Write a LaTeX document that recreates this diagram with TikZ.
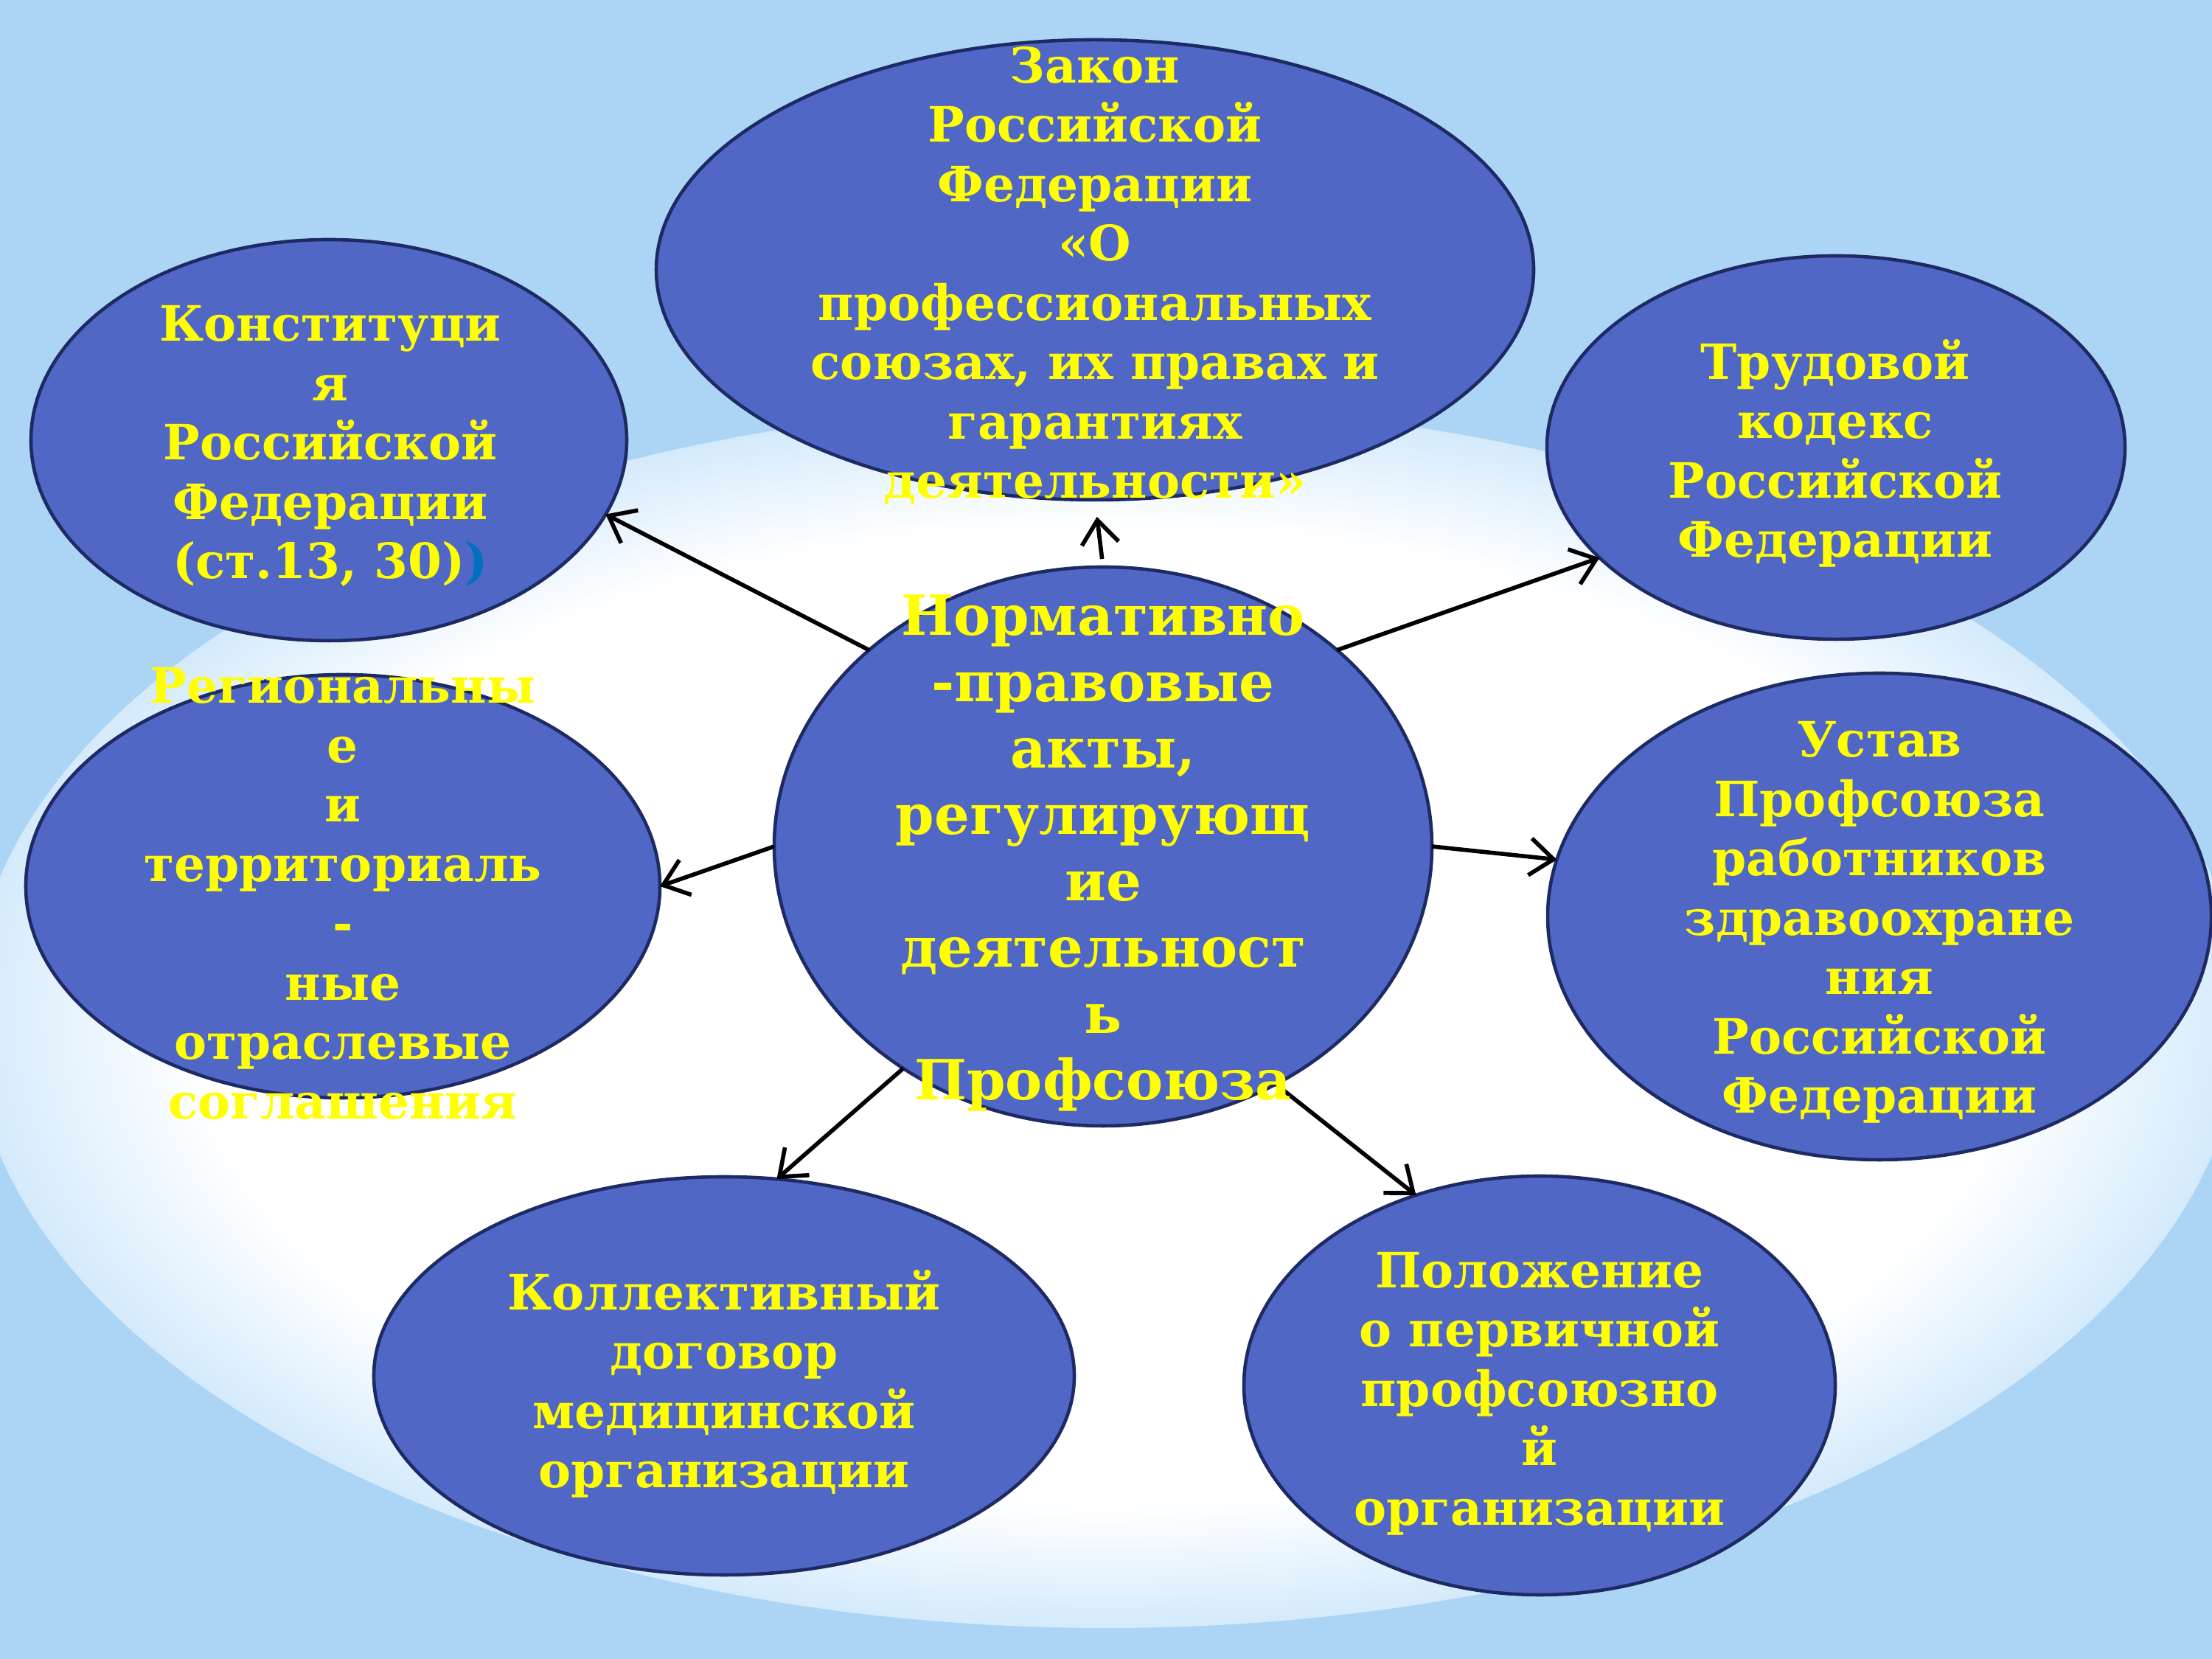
\documentclass[tikz,border=0pt]{standalone}
\usepackage{fontspec}
\setmainfont{DejaVu Serif}
\usepackage{tikz}
\usetikzlibrary{arrows.meta,shapes.geometric}
\definecolor{bgblue}{RGB}{172,213,245}
\definecolor{bglight}{RGB}{226,241,253}
\definecolor{spotedge}{RGB}{212,234,251}
\definecolor{ovalfill}{RGB}{80,103,198}
\definecolor{ovaldraw}{RGB}{30,42,100}
\definecolor{txtyellow}{RGB}{255,255,0}
\definecolor{parblue}{RGB}{0,112,192}
\pgfdeclareradialshading{spotlight}{\pgfpoint{0bp}{0bp}}{color(0bp)=(white); color(20bp)=(white); color(25bp)=(spotedge); color(50bp)=(spotedge)}

\begin{document}
\begin{tikzpicture}[>={Straight Barb[length=3.2mm,width=5mm]},
  oval/.style={ellipse,draw=ovaldraw,fill=ovalfill,line width=1.3pt,inner sep=0pt,outer sep=0pt},
  lbl/.style={text=txtyellow,font=\bfseries\fontsize{18.8}{22.9}\selectfont,align=center},
  arr/.style={->,line width=1.6pt}]
\useasboundingbox (0,0) rectangle (30,22.5);
\shade[left color=bgblue,middle color=bglight,right color=bgblue] (0,0) rectangle (30,22.5);
\shade[shading=spotlight] (15,8.72) ellipse [x radius=15.4,y radius=8.3];

\node[oval,minimum width=8.08cm,minimum height=5.44cm] (konst) at (4.46,16.53) {};
\node[oval,minimum width=11.9cm,minimum height=6.24cm] (zakon) at (14.85,18.84) {};
\node[oval,minimum width=7.84cm,minimum height=5.2cm] (tk) at (24.9,16.43) {};
\node[oval,minimum width=8.6cm,minimum height=5.74cm] (region) at (4.65,10.48) {};
\node[oval,minimum width=8.92cm,minimum height=7.58cm] (main) at (14.96,11.02) {};
\node[oval,minimum width=9cm,minimum height=6.6cm] (ustav) at (25.49,10.07) {};
\node[oval,minimum width=9.5cm,minimum height=5.4cm] (kollektiv) at (9.82,3.84) {};
\node[oval,minimum width=8.02cm,minimum height=5.68cm] (polozh) at (20.88,3.71) {};

\draw[arr] (main.140) -- (konst.345);
\draw[arr,shorten >=0.23cm,shorten <=0.11cm] (main.north) -- (zakon.south);
\draw[arr] (main.40) -- (tk.205);
\draw[arr] (main.west) -- (region.east);
\draw[arr] (main.east) -- (ustav.170);
\draw[arr] (main.228) -- (kollektiv.75);
\draw[arr] (main.306) -- (polozh.123);

\node[lbl] (konsttxt) at (4.48,16.45) {Конституци\\я\\Российской\\Федерации\\(ст.13, 30)\textcolor{parblue}{)}};
\node[lbl] (zakontxt) at (14.85,18.76) {Закон\\Российской\\Федерации\\«О\\профессиональных\\союзах, их правах и\\гарантиях\\деятельности»};
\node[lbl] (tktxt) at (24.89,16.35) {Трудовой\\кодекс\\Российской\\Федерации};
\node[lbl] (regiontxt) at (4.65,10.38) {Региональны\\е\\и\\территориаль\\-\\ные\\отраслевые\\соглашения};
\node[lbl,font=\bfseries\fontsize{21.4}{25.6}\selectfont] (maintxt) at (14.96,10.93) {Нормативно\\-правовые\\акты,\\регулирующ\\ие\\деятельност\\ь\\Профсоюза};
\node[lbl] (ustavtxt) at (25.49,9.99) {Устав\\Профсоюза\\работников\\здравоохране\\ния\\Российской\\Федерации};
\node[lbl] (kollektivtxt) at (9.82,3.73) {Коллективный\\договор\\медицинской\\организации};
\node[lbl] (polozhtxt) at (20.88,3.6) {Положение\\о первичной\\профсоюзно\\й\\организации};
\end{tikzpicture}
\end{document}
